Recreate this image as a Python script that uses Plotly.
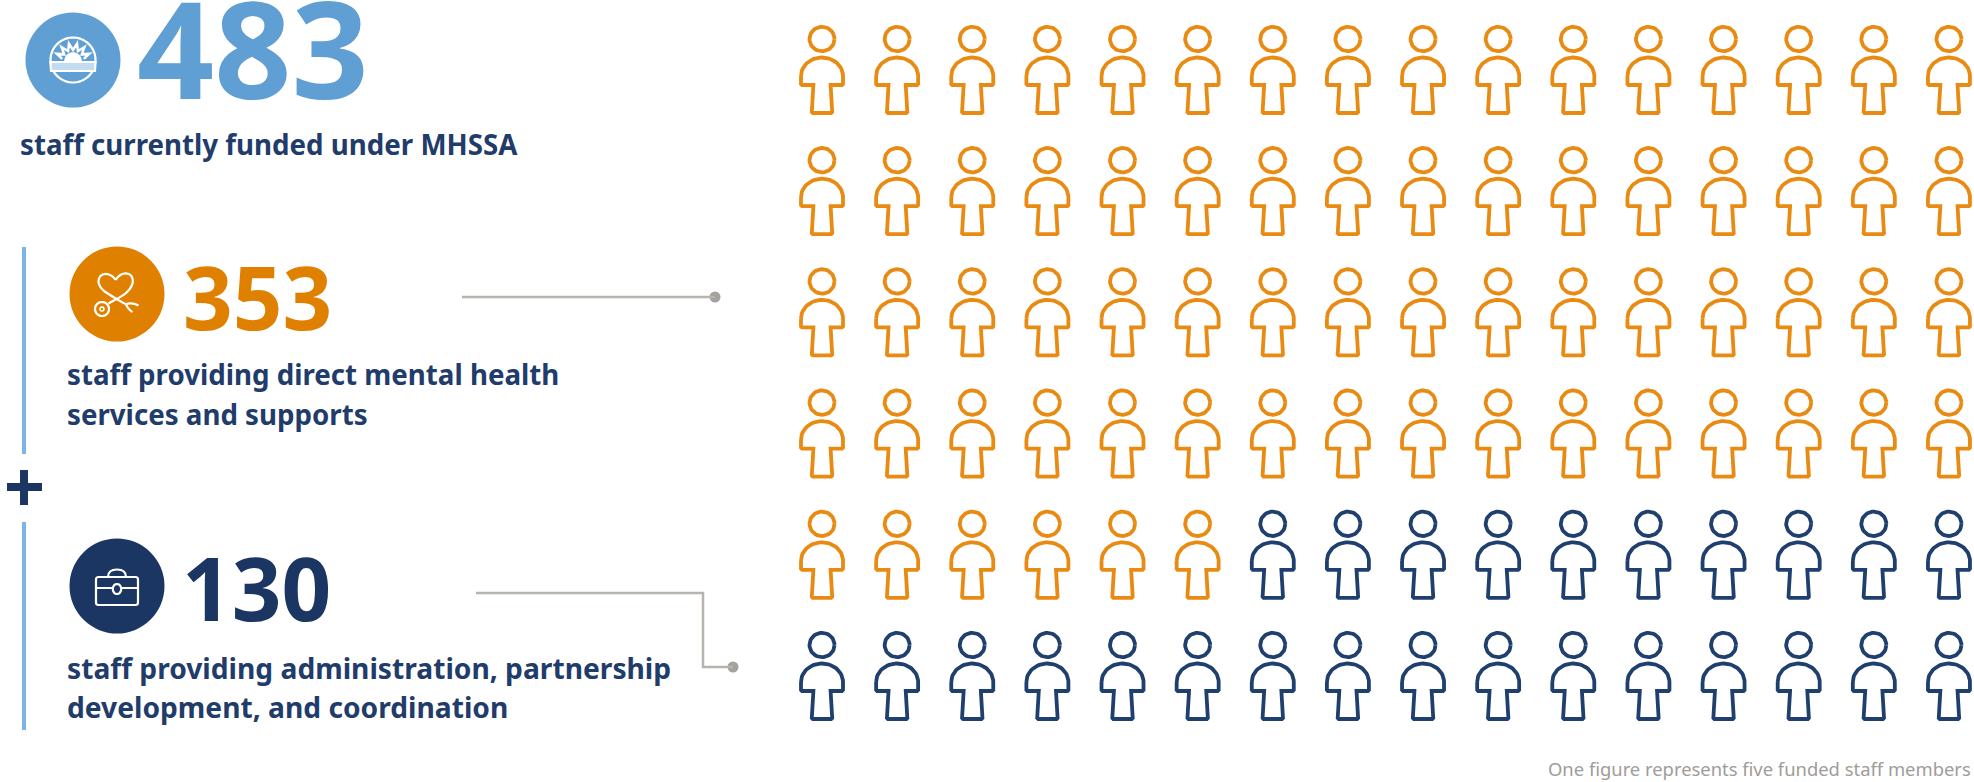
import numpy as np
import plotly.graph_objects as go

# Staffing figures
TOTAL_STAFF = 483
DIRECT_STAFF = 353
ADMIN_STAFF = 130
STAFF_PER_FIGURE = 5
GRID_COLUMNS = 16

TOTAL_LABEL = "staff currently funded under MHSSA"
DIRECT_LABEL = ["staff providing direct mental health", "services and supports"]
ADMIN_LABEL = ["staff providing administration, partnership", "development, and coordination"]
FOOTNOTE = "One figure represents five funded staff members"

BLUE = "#5f9fd3"
BAND_BLUE = "#c4dcf0"
RULE_BLUE = "#7db4e6"
ORANGE = "#e08000"
ORANGE_LINE = "#e98b12"
NAVY = "#1c3664"
NAVY_LINE = "#1f3f6e"
TEXT_NAVY = "#1f3c6b"
GREY_LINE = "#b7b3ae"
GREY_DOT = "#a5a19c"
GREY_TEXT = "#a09c98"
FONT = "Noto Sans"

W, H = 1974, 782
COL_PITCH, ROW_PITCH = 75.13, 121.2
ORIGIN_X, ORIGIN_Y = 822.0, 39.0


def person_outline():
    """Head ring and body outline of one pictogram, in pixels around the head centre."""
    t = np.linspace(0, 2 * np.pi, 49)
    head_x, head_y = 12.5 * np.cos(t), 12.2 * np.sin(t)
    a = np.linspace(np.pi, 0, 33)
    dome_x, dome_y = 21 * np.cos(a), 37 - 18.5 * np.sin(a)
    # arms step in to a torso that widens slightly towards the hem
    body_x = np.concatenate([dome_x, [21, 20, 8.6, 10.2, 9.2, -9.2, -10.2, -8.6, -20, -21, -21]])
    body_y = np.concatenate([dome_y, [45, 46, 46, 73, 74, 74, 73, 46, 46, 45, 37]])
    return (head_x, head_y), (body_x, body_y)


def person_trace(indices, colour, name):
    """One line trace holding every pictogram of a group, placed by column and row."""
    (hx, hy), (bx, by) = person_outline()
    xs, ys = [], []
    for i in indices:
        row, col = divmod(int(i), GRID_COLUMNS)
        for px, py in ((hx, hy), (bx, by)):
            xs += list(col + px / COL_PITCH) + [None]
            ys += list(row + py / ROW_PITCH) + [None]
    return go.Scatter(x=xs, y=ys, mode="lines", name=name, xaxis="x2", yaxis="y2",
                      line=dict(color=colour, width=3.8), hoverinfo="skip",
                      cliponaxis=False, showlegend=False)


direct_figures = DIRECT_STAFF // STAFF_PER_FIGURE
admin_figures = ADMIN_STAFF // STAFF_PER_FIGURE

fig = go.Figure()
fig.add_trace(person_trace(range(direct_figures), ORANGE_LINE, "Direct services"))
fig.add_trace(person_trace(range(direct_figures, direct_figures + admin_figures), NAVY_LINE, "Administration"))

shapes = []


def disc(cx, cy, r, colour):
    shapes.append(dict(type="circle", xref="x", yref="y", x0=cx - r, x1=cx + r, y0=cy - r, y1=cy + r,
                       fillcolor=colour, line=dict(width=0), layer="below"))


def stroke(path, colour="white", width=2.2, fill=None):
    shapes.append(dict(type="path", xref="x", yref="y", path=path, fillcolor=fill,
                       line=dict(color=colour, width=width)))


def rule(x0, y0, x1, y1, colour, width):
    shapes.append(dict(type="line", xref="x", yref="y", x0=x0, y0=y0, x1=x1, y1=y1,
                       line=dict(color=colour, width=width)))


def arc(cx, cy, rx, ry, start_deg, end_deg, close=False):
    """Polyline path along an ellipse; angles run anticlockwise on screen from the +x direction."""
    a = np.radians(np.linspace(start_deg, end_deg, 41))
    pts = [f"{cx + rx * np.cos(v):.2f},{cy - ry * np.sin(v):.2f}" for v in a]
    return "M" + " L".join(pts) + (" Z" if close else "")


# Icon discs
disc(73, 60, 47.5, BLUE)
disc(117, 294, 47.5, ORANGE)
disc(117, 586, 47.5, NAVY)

# Sunrise emblem: ring, horizon band, zigzag rays and the low sun
stroke(arc(73, 60, 22.5, 22.5, 180, 0))
stroke(arc(73, 60, 22.5, 22.5, -180, 0))
stroke("M50.5,62 L95.5,62 L95,71 L51,71 Z", fill=BAND_BLUE)
ray_angles = np.linspace(np.pi * 0.94, np.pi * 0.06, 13)
ray_radii = [11, 18] * 6 + [11]
ray_points = [f"{73 + r * np.cos(a):.1f},{61 - r * np.sin(a):.1f}" for a, r in zip(ray_angles, ray_radii)]
stroke("M" + " L".join(ray_points), width=2.4)
stroke(arc(73, 61, 8, 8, 180, 0, close=True), width=1.5, fill="white")

# Heart and stethoscope emblem
stroke("M115.7,280 C112,274 104,272 100.5,276 C96.5,281 99,287 104,291 C111,296 120,301 126,304.5")
stroke("M115.7,280 C119,274 127,271 131,275.5 C135,281 132,288 126,293 C120,298 114,300 108.5,303.5")
stroke("M126,304 C130,303 134,303 138.5,305.5 M126,304 C127,307 129,310 132.5,312")
stroke(arc(102, 309, 7, 7, 0, 360, close=True))
stroke(arc(102, 309, 2, 2, 0, 360, close=True), width=1.6)

# Briefcase emblem
stroke("M98.5,577 L135.5,577 Q138,577 138,579.5 L138,602.5 Q138,605 135.5,605 L98.5,605 Q96,605 96,602.5 L96,579.5 Q96,577 98.5,577 Z")
stroke("M108,577 Q108,569.5 117,569.5 Q126,569.5 126,577")
stroke("M96,588 L112.5,588 M121.5,588 L138,588")
stroke(arc(117, 589, 4.2, 5, 0, 360, close=True))

# Side brackets and plus sign
rule(24, 247, 24, 454, RULE_BLUE, 4)
rule(24, 522, 24, 730, RULE_BLUE, 4)
rule(7, 487, 42, 487, NAVY, 8)
rule(24, 470, 24, 505, NAVY, 8)

# Connectors from the counts to the grid
rule(462, 297, 715, 297, GREY_LINE, 2.5)
stroke("M476,593 L703,593 L703,667 L733,667", GREY_LINE, 2.5)
disc(715, 297, 5.5, GREY_DOT)
disc(733, 667, 5.5, GREY_DOT)

texts = [
    (135, 47, str(TOTAL_STAFF), 135, BLUE),
    (181, 296, str(DIRECT_STAFF), 87, ORANGE),
    (180, 587, str(ADMIN_STAFF), 87, NAVY),
    (17.5, 144, TOTAL_LABEL, 27.7, TEXT_NAVY),
    (64.5, 374, DIRECT_LABEL[0], 27.7, TEXT_NAVY),
    (64.5, 414, DIRECT_LABEL[1], 27.7, TEXT_NAVY),
    (64.5, 668, ADMIN_LABEL[0], 28.2, TEXT_NAVY),
    (64.5, 707, ADMIN_LABEL[1], 28.2, TEXT_NAVY),
]
annotations = [
    dict(x=x, y=y, xref="x", yref="y", text=f"<b>{t}</b>", showarrow=False,
         xanchor="left", yanchor="middle", font=dict(family=FONT, size=size, color=colour))
    for x, y, t, size, colour in texts
]
annotations.append(dict(x=W - 1, y=768, xref="x", yref="y", text=FOOTNOTE, showarrow=False,
                        xanchor="right", yanchor="middle",
                        font=dict(family=FONT, size=18.4, color=GREY_TEXT)))

hidden = dict(visible=False, showgrid=False, zeroline=False, fixedrange=True)
fig.update_layout(
    width=W, height=H, margin=dict(l=0, r=0, t=0, b=0),
    paper_bgcolor="white", plot_bgcolor="white", showlegend=False,
    shapes=shapes, annotations=annotations,
    # pixel-like axes for the left-hand panel
    xaxis=dict(range=[0, W], domain=[0, 1], **hidden),
    yaxis=dict(range=[H, 0], domain=[0, 1], **hidden),
    # column and row axes for the pictogram grid
    xaxis2=dict(range=[-ORIGIN_X / COL_PITCH, (W - ORIGIN_X) / COL_PITCH], overlaying="x", **hidden),
    yaxis2=dict(range=[(H - ORIGIN_Y) / ROW_PITCH, -ORIGIN_Y / ROW_PITCH], overlaying="y", **hidden),
)
fig.write_html("out.html")
